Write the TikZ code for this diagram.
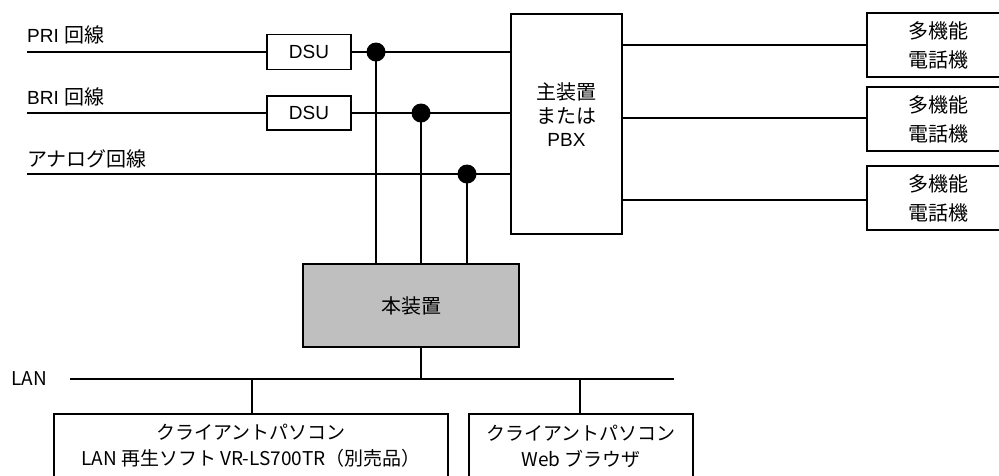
\documentclass[tikz,border=0pt]{standalone}
\usepackage{fontspec}
\setmainfont{Liberation Sans}
\newfontfamily\jp{Noto Sans CJK JP}
\definecolor{boxgray}{HTML}{BFBFBF}
\begin{document}
\begin{tikzpicture}[x=1pt,y=-1pt,
  lw/.style={line width=1.6pt},
  box/.style={draw,lw,rectangle,inner sep=0pt,align=center,font=\fontsize{19pt}{23.5pt}\selectfont},
  lbl/.style={anchor=west,inner sep=0pt,font=\fontsize{19pt}{23pt}\selectfont},
  dot/.style={circle,fill=black,inner sep=0pt,minimum size=19pt},
  phone/.style={box,minimum width=142pt,minimum height=64pt,font=\jp\fontsize{20pt}{29pt}\selectfont},
  client/.style={box,minimum height=64pt,font=\jp\fontsize{19pt}{26pt}\selectfont}
]
\useasboundingbox (0,0) rectangle (999,475);

% labels
\node[lbl] (lpri) at (27,35) {PRI {\jp\fontsize{20pt}{23pt}\selectfont 回線}};
\node[lbl] (lbri) at (27,97) {BRI {\jp\fontsize{20pt}{23pt}\selectfont 回線}};
\node[lbl,font=\jp\fontsize{20pt}{23pt}\selectfont] (lana) at (27,159) {アナログ回線};
\node[lbl,font=\jp\fontsize{19pt}{23pt}\selectfont] (llan) at (11,379) {LAN};

% line starts
\coordinate (spri) at (27,52);
\coordinate (sbri) at (27,113);
\coordinate (sana) at (27,174);

% boxes
\node[box,minimum width=84pt,minimum height=35pt] (dsu1) at (309,52) {DSU};
\node[box,minimum width=84pt,minimum height=34pt] (dsu2) at (309,113) {DSU};
\node[box,minimum width=111pt,minimum height=220pt,
  label={[align=center,yshift=9pt,font=\fontsize{19pt}{23.5pt}\selectfont]center:{\jp\fontsize{20pt}{23.5pt}\selectfont 主装置}\\{\jp\fontsize{20pt}{23.5pt}\selectfont または}\\PBX}] (pbx) at (566.5,124) {};
\node[phone] (ph1) at (938,45) {多機能\\電話機};
\node[phone] (ph2) at (938,119) {多機能\\電話機};
\node[phone] (ph3) at (938,198) {多機能\\電話機};
\node[box,fill=boxgray,minimum width=216pt,minimum height=83pt,font=\jp\fontsize{20pt}{24pt}\selectfont] (main) at (411,305.5) {本装置};
\node[client,minimum width=394pt] (cl1) at (251,446) {クライアントパソコン\\LAN 再生ソフト VR-LS700TR（別売品）};
\node[client,minimum width=224pt] (cl2) at (581,446) {クライアントパソコン\\Web ブラウザ};

% junction dots
\node[dot] (d1) at (376,52) {};
\node[dot] (d2) at (421,113) {};
\node[dot] (d3) at (467,174) {};

% LAN
\coordinate (lanL) at (70,379);
\coordinate (lanR) at (674,379);
\coordinate (lanM) at (421,379);
\coordinate (lan1) at (252,379);
\coordinate (lan2) at (580,379);

% connectors
\draw[lw] (spri) -- (dsu1.west);
\draw[lw] (dsu1.east) -- (dsu1.east -| pbx.west);
\draw[lw] (sbri) -- (dsu2.west);
\draw[lw] (dsu2.east) -- (dsu2.east -| pbx.west);
\draw[lw] (sana) -- (sana -| pbx.west);

\draw[lw] (d1.center) -- (d1.center |- main.north);
\draw[lw] (d2.center) -- (d2.center |- main.north);
\draw[lw] (d3.center) -- (d3.center |- main.north);

\draw[lw] (ph1.west -| pbx.east) -- (ph1.west);
\draw[lw] (pbx.east |- 0,118) -- (ph2.west |- 0,118);
\draw[lw] (pbx.east |- 0,200) -- (ph3.west |- 0,200);

\draw[lw] (lanL) -- (lanR);
\draw[lw] (lanM |- main.south) -- (lanM);
\draw[lw] (lan1) -- (lan1 |- cl1.north);
\draw[lw] (lan2) -- (lan2 |- cl2.north);
\end{tikzpicture}
\end{document}
